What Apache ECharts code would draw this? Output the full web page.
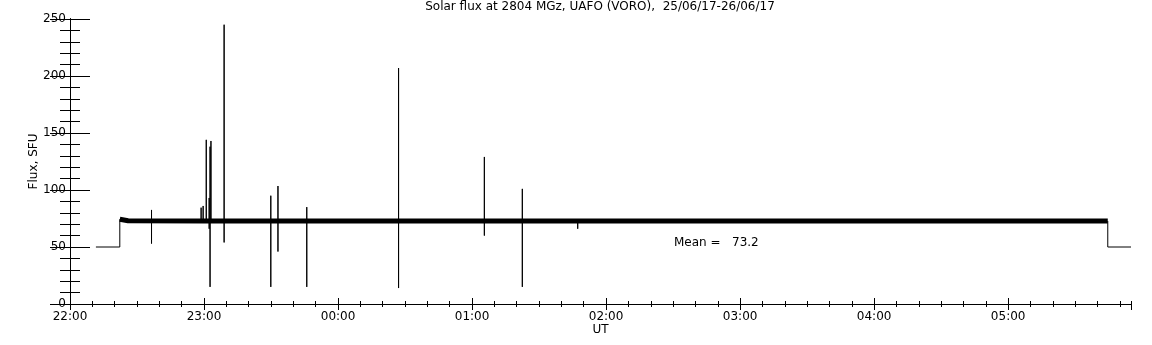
<!DOCTYPE html>
<html>
<head>
<meta charset="utf-8">
<script src="https://cdn.jsdelivr.net/npm/echarts@6/dist/echarts.min.js"></script>
<style>
  html, body { margin: 0; padding: 0; background: #fff; }
  #flux { width: 1152px; height: 345px; }
</style>
</head>
<body>
<div id="flux"></div>
<script>
// time is minutes after 22:00 UT on 25/06/17
var xMin = 0, xMax = 475;

// quiet level before and after the observation window
var offTimes = [11.6, 22.3, 22.3];
var offValues = [50, 50, 74.4];
var endTimes = [464.6, 464.6, 475];
var endValues = [72.8, 50, 50];

// the thick noisy band of the working receiver
var bandTimes = [22.3, 26, 60, 120, 180, 240, 300, 360, 420, 464.6];
var bandValues = [74.4, 73.0, 72.8, 72.8, 72.7, 72.8, 72.7, 72.8, 72.8, 72.8];

// bursts and dropouts: time, highest and lowest value
var spikeTimes = [36.5, 58.7, 59.6, 61.0, 62.3, 62.7, 63.1, 69.0, 89.9, 93.1, 106.0, 147.1, 185.5, 202.5, 227.3];
var spikeTops = [82.5, 84.5, 86, 144, 93, 138, 143, 245, 95, 103.5, 85, 207, 129, 101, 72.8];
var spikeBottoms = [53, 72.8, 72.8, 72.8, 66, 15, 72.8, 54, 15, 46, 15, 14, 60, 15, 66];
var spikeBase = 72.8;

var meanValue = 73.2;

function pairs(xs, ys) {
    var out = [];
    for (var i = 0; i < xs.length; i++) out.push([xs[i], ys[i]]);
    return out;
}

var spikeData = [];
for (var i = 0; i < spikeTimes.length; i++) {
    spikeData.push([spikeTimes[i], spikeBase]);
    spikeData.push([spikeTimes[i], spikeTops[i]]);
    spikeData.push([spikeTimes[i], spikeBottoms[i]]);
    spikeData.push([spikeTimes[i], spikeBase]);
    spikeData.push([spikeTimes[i], null]);
}

function hourLabel(v) {
    if (v % 60 !== 0) return '';
    var h = (22 + v / 60) % 24;
    return (h < 10 ? '0' : '') + h + ':00';
}

var font = 'DejaVu Sans';
var black = '#000';

function xAxisOf(pos, step, len, labels) {
    return {
        type: 'value', position: pos, min: xMin, max: xMax, interval: step,
        axisLine: { show: true, lineStyle: { color: black, width: 1 } },
        axisTick: { show: true, inside: true, length: len, lineStyle: { color: black } },
        axisLabel: {
            show: labels, formatter: hourLabel, showMaxLabel: false,
            color: black, fontFamily: font, fontSize: 12, margin: 7
        },
        splitLine: { show: false },
        name: labels ? 'UT' : '', nameLocation: 'middle', nameGap: 20, nameMoveOverlap: false,
        nameTextStyle: { color: black, fontFamily: font, fontSize: 12 }
    };
}

function yAxisOf(pos, step, len, labels) {
    return {
        type: 'value', position: pos, min: 0, max: 250, interval: step,
        axisLine: { show: true, lineStyle: { color: black, width: 1 } },
        axisTick: { show: true, inside: true, length: len, lineStyle: { color: black } },
        axisLabel: { show: labels, color: black, fontFamily: font, fontSize: 12, margin: 4 },
        splitLine: { show: false },
        name: labels ? 'Flux, SFU' : '', nameLocation: 'middle', nameGap: 30, nameMoveOverlap: false,
        nameTextStyle: { color: black, fontFamily: font, fontSize: 12 }
    };
}

var myChart = echarts.init(document.getElementById('flux'));
var option = {
    animation: false,
    backgroundColor: '#fff',
    grid: { left: 70, right: 21, top: 19, bottom: 41 },
    xAxis: [
        xAxisOf('bottom', 60, 6, true),
        xAxisOf('bottom', 10, 3, false),
        xAxisOf('top', 60, 6, false),
        xAxisOf('top', 10, 3, false)
    ],
    yAxis: [
        yAxisOf('left', 50, 20, true),
        yAxisOf('left', 10, 10, false),
        yAxisOf('right', 50, 20, false),
        yAxisOf('right', 10, 10, false)
    ],
    graphic: [
        {
            type: 'text', x: 600, y: 7,
            style: {
                text: 'Solar flux at 2804 MGz, UAFO (VORO),  25/06/17-26/06/17',
                fill: black, font: '12px "DejaVu Sans"', align: 'center', verticalAlign: 'middle'
            }
        },
        {
            type: 'text', left: 674, top: 237,
            style: { text: 'Mean =   ' + meanValue.toFixed(1), fill: black, font: '12px "DejaVu Sans"' }
        }
    ],
    series: [
        {
            type: 'line', data: pairs(bandTimes, bandValues), showSymbol: false,
            lineStyle: { color: black, width: 5, cap: 'butt' }
        },
        {
            type: 'line', data: spikeData, showSymbol: false, connectNulls: false,
            lineStyle: { color: black, width: 1 }
        },
        {
            type: 'line', data: pairs(offTimes, offValues), showSymbol: false,
            lineStyle: { color: black, width: 1 }
        },
        {
            type: 'line', data: pairs(endTimes, endValues), showSymbol: false,
            lineStyle: { color: black, width: 1 }
        }
    ]
};
myChart.setOption(option);
</script>
</body>
</html>
